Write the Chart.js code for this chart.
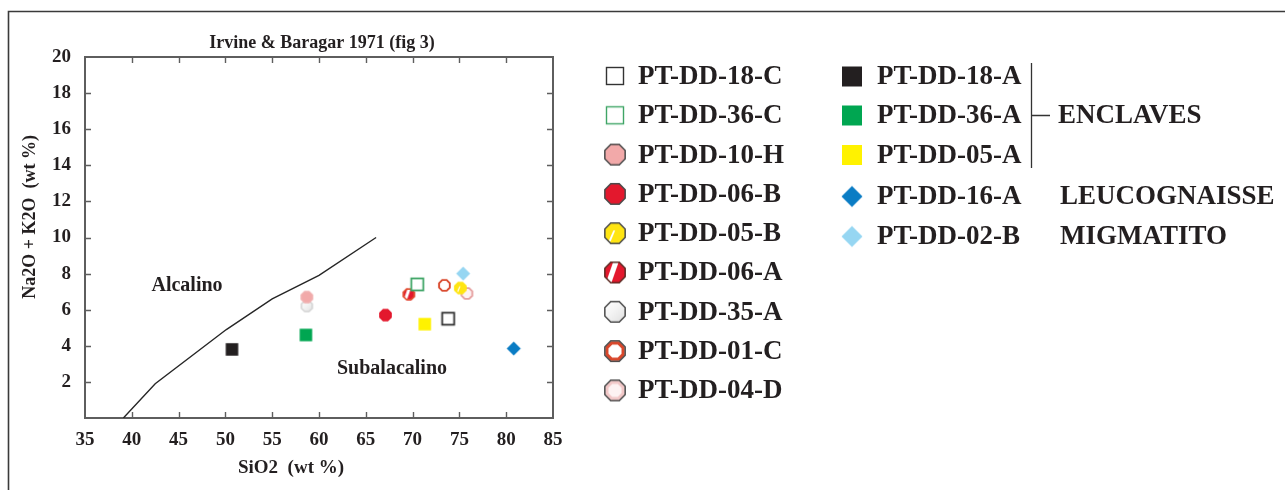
<!DOCTYPE html>
<html>
<head>
<meta charset="utf-8">
<script src="https://cdn.jsdelivr.net/npm/chart.js@4/dist/chart.umd.min.js"></script>
<style>
  html, body { margin: 0; padding: 0; background: #ffffff; }
  canvas { display: block; }
</style>
</head>
<body>
<canvas id="tas" width="1285" height="490"></canvas>
<script>
// Samples, SiO2 and total alkalis (Na2O + K2O), in wt %
const samples = ['PT-DD-18-C', 'PT-DD-36-C', 'PT-DD-10-H', 'PT-DD-06-B', 'PT-DD-05-B',
                 'PT-DD-06-A', 'PT-DD-35-A', 'PT-DD-01-C', 'PT-DD-04-D',
                 'PT-DD-18-A', 'PT-DD-36-A', 'PT-DD-05-A', 'PT-DD-16-A', 'PT-DD-02-B'];
const sio2    = [73.8, 70.5, 58.7, 67.1, 75.1, 69.6, 58.7, 73.4, 75.8, 50.7, 58.6, 71.3, 80.8, 75.4];
const alkalis = [5.5,  7.4,  6.7,  5.7,  7.2,  6.85, 6.2,  7.35, 6.9,  3.8,  4.6,  5.2,  3.85, 8.0];

// Irvine & Baragar (1971) alkaline / subalkaline divide
const divideSiO2 = [39.1, 42.5, 50.1, 55.0, 60.0, 66.1];
const divideAlk  = [0.0,  1.9,  4.9,  6.6,  7.9,  10.0];

// Axis tick labels
const xTickLabels = ['35', '40', '45', '50', '55', '60', '65', '70', '75', '80', '85'];
const yTickLabels = ['', '2', '4', '6', '8', '10', '12', '14', '16', '18', '20'];

// Field names written inside the diagram
const fieldNames = ['Alcalino', 'Subalacalino'];
const fieldSiO2  = [45.9, 67.8];
const fieldAlk   = [7.3, 2.75];

// Legend groups (second column)
const groupNames = ['ENCLAVES', 'LEUCOGNAISSE', 'MIGMATITO'];

// Symbol for each sample
const symbolStyles = {
  'PT-DD-18-C': { shape: 'square', fill: '#ffffff', stroke: '#333333', open: true },
  'PT-DD-36-C': { shape: 'square', fill: '#ffffff', stroke: '#3fa566', open: true },
  'PT-DD-10-H': { shape: 'oct', fill: '#f2a9a9', stroke: '#4a4a4a', plotStroke: '#f0b0b0' },
  'PT-DD-06-B': { shape: 'oct', fill: '#e3182d', stroke: '#4a4a4a', plotStroke: '#e3182d' },
  'PT-DD-05-B': { shape: 'oct', fill: '#ffe512', stroke: '#4a4a4a', plotStroke: '#ffe512', band: 'thin' },
  'PT-DD-06-A': { shape: 'oct', fill: '#e3182d', stroke: '#5a2a22', plotStroke: '#e0502c', band: 'wide' },
  'PT-DD-35-A': { shape: 'oct', fill: '#dedede', stroke: '#4a4a4a', plotStroke: '#d4d4d4', shade: true },
  'PT-DD-01-C': { shape: 'oct', fill: '#ffffff', stroke: '#4a4a4a', plotStroke: '#d9472b', ring: '#d9472b' },
  'PT-DD-04-D': { shape: 'oct', fill: '#fdf2f2', stroke: '#4a4a4a', plotStroke: '#e6a2a2', ring: '#f2c8c8' },
  'PT-DD-18-A': { shape: 'square', fill: '#231f20', stroke: '#231f20' },
  'PT-DD-36-A': { shape: 'square', fill: '#00a651', stroke: '#00a651' },
  'PT-DD-05-A': { shape: 'square', fill: '#fff200', stroke: '#fff200' },
  'PT-DD-16-A': { shape: 'diamond', fill: '#0a7cc4', stroke: '#0a7cc4' },
  'PT-DD-02-B': { shape: 'diamond', fill: '#96d6f2', stroke: '#96d6f2' }
};

const SERIF = "'Liberation Serif', 'DejaVu Serif', serif";
const INK = '#231f20';

function octPath(ctx, cx, cy, r) {
  ctx.beginPath();
  for (let k = 0; k < 8; k++) {
    const a = Math.PI / 8 + k * Math.PI / 4;
    const px = cx + r * Math.cos(a), py = cy + r * Math.sin(a);
    if (k === 0) ctx.moveTo(px, py); else ctx.lineTo(px, py);
  }
  ctx.closePath();
}

// Builds a small canvas used as a point style (plot) or legend key
function makeSymbol(st, big) {
  const size = big ? 26 : 17;
  const c = document.createElement('canvas');
  c.width = size; c.height = size;
  const g = c.getContext('2d');
  const m = size / 2;
  if (st.shape === 'square') {
    const s = big ? (st.open ? 17 : 20) : (st.open ? 12 : 12.5);
    if (st.open) {
      g.fillStyle = '#ffffff';
      g.fillRect(m - s / 2, m - s / 2, s, s);
      g.strokeStyle = st.stroke;
      g.lineWidth = big ? 1.4 : 1.8;
      g.strokeRect(m - s / 2, m - s / 2, s, s);
    } else {
      g.fillStyle = st.fill;
      g.fillRect(m - s / 2, m - s / 2, s, s);
    }
  } else if (st.shape === 'diamond') {
    const r = big ? 10.5 : 7;
    g.beginPath();
    g.moveTo(m, m - r); g.lineTo(m + r, m); g.lineTo(m, m + r); g.lineTo(m - r, m);
    g.closePath();
    g.fillStyle = st.fill;
    g.fill();
  } else {
    const r = big ? 11 : 6.6;
    octPath(g, m, m, r);
    if (st.shade) {
      const grad = g.createLinearGradient(m - r, m - r, m + r, m + r);
      grad.addColorStop(0, '#ffffff');
      grad.addColorStop(0.45, '#f4f4f4');
      grad.addColorStop(1, st.fill);
      g.fillStyle = grad;
    } else {
      g.fillStyle = st.fill;
    }
    g.fill();
    if (st.band) {
      g.save();
      octPath(g, m, m, r);
      g.clip();
      g.fillStyle = '#ffffff';
      g.beginPath();
      if (st.band === 'wide') {
        g.moveTo(m - 0.15 * r, m - r); g.lineTo(m + 0.35 * r, m - r);
        g.lineTo(m - 0.35 * r, m + r); g.lineTo(m - 0.85 * r, m + r);
      } else {
        g.moveTo(m - 0.15 * r, m - 0.25 * r); g.lineTo(m + 0.02 * r, m - 0.25 * r);
        g.lineTo(m - 0.4 * r, m + 0.75 * r); g.lineTo(m - 0.6 * r, m + 0.75 * r);
      }
      g.closePath();
      g.fill();
      g.restore();
    }
    if (big) {
      if (st.ring) {
        octPath(g, m, m, r - 2.2);
        g.strokeStyle = st.ring;
        g.lineWidth = 3.2;
        g.stroke();
      }
      octPath(g, m, m, r);
      g.strokeStyle = st.stroke;
      g.lineWidth = 1.5;
      g.stroke();
    } else {
      octPath(g, m, m, r - 0.8);
      g.strokeStyle = st.plotStroke || st.stroke;
      g.lineWidth = st.ring ? 1.9 : 1.5;
      g.stroke();
    }
  }
  return c;
}

const plotSymbols = {}, legendSymbols = {};
samples.forEach(function (s) {
  plotSymbols[s] = makeSymbol(symbolStyles[s], false);
  legendSymbols[s] = makeSymbol(symbolStyles[s], true);
});

const sampleSets = samples.map(function (s, i) {
  return {
    label: s,
    data: [{ x: sio2[i], y: alkalis[i] }],
    pointStyle: plotSymbols[s],
    pointRadius: 7,
    pointHoverRadius: 7
  };
});

const divideSet = {
  label: 'Irvine & Baragar 1971',
  data: divideSiO2.map(function (x, i) { return { x: x, y: divideAlk[i] }; }),
  showLine: true,
  borderColor: '#262626',
  borderWidth: 1.4,
  pointRadius: 0,
  tension: 0,
  fill: false
};

// Figure frame, plot box with inward ticks, titles, field names and legend
const decorations = {
  id: 'decorations',
  beforeDatasetsDraw(chart) {
    const ctx = chart.ctx, a = chart.chartArea;
    const xs = chart.scales.x, ys = chart.scales.y;
    ctx.save();
    // outer figure frame
    ctx.strokeStyle = '#3a3a3a';
    ctx.lineWidth = 1.6;
    ctx.beginPath();
    ctx.moveTo(8.5, 495); ctx.lineTo(8.5, 11.5); ctx.lineTo(1290, 11.5);
    ctx.stroke();
    // plot box
    ctx.strokeStyle = '#5e5e5e';
    ctx.lineWidth = 2;
    ctx.strokeRect(a.left, a.top, a.right - a.left, a.bottom - a.top);
    // inward tick marks on all four sides
    ctx.lineWidth = 1.4;
    ctx.beginPath();
    xs.ticks.forEach(function (t, i) {
      if (i === 0 || i === xs.ticks.length - 1) return;
      const px = Math.round(xs.getPixelForValue(t.value)) + 0.5;
      ctx.moveTo(px, a.bottom); ctx.lineTo(px, a.bottom - 6);
      ctx.moveTo(px, a.top); ctx.lineTo(px, a.top + 6);
    });
    ys.ticks.forEach(function (t, i) {
      if (i === 0 || i === ys.ticks.length - 1) return;
      const py = Math.round(ys.getPixelForValue(t.value)) + 0.5;
      ctx.moveTo(a.left, py); ctx.lineTo(a.left + 6, py);
      ctx.moveTo(a.right, py); ctx.lineTo(a.right - 6, py);
    });
    ctx.stroke();
    ctx.restore();
  },
  afterDraw(chart) {
    const ctx = chart.ctx, a = chart.chartArea;
    const xs = chart.scales.x, ys = chart.scales.y;
    ctx.save();
    ctx.fillStyle = INK;
    ctx.textBaseline = 'middle';
    ctx.textAlign = 'center';

    // diagram title
    ctx.font = 'bold 18px ' + SERIF;
    ctx.fillText('Irvine & Baragar 1971 (fig 3)', (a.left + a.right) / 2 + 3, a.top - 14);

    // axis titles
    ctx.font = 'bold 19px ' + SERIF;
    ctx.fillText('SiO2  (wt %)', a.left + 206, a.bottom + 50);
    ctx.font = 'bold 18px ' + SERIF;
    ctx.save();
    ctx.translate(a.left - 55, a.top + 160);
    ctx.rotate(-Math.PI / 2);
    ctx.fillText('Na2O + K2O  (wt %)', 0, 0);
    ctx.restore();

    // field names
    ctx.font = 'bold 20px ' + SERIF;
    fieldNames.forEach(function (t, i) {
      ctx.fillText(t, xs.getPixelForValue(fieldSiO2[i]), ys.getPixelForValue(fieldAlk[i]));
    });

    // legend: first column
    ctx.textAlign = 'left';
    ctx.font = 'bold 27px ' + SERIF;
    const col1 = samples.slice(0, 9);
    col1.forEach(function (s, i) {
      const y = 76 + i * 39.3;
      const img = legendSymbols[s];
      ctx.drawImage(img, 615 - img.width / 2, y - img.height / 2);
      ctx.fillText(s, 638, y + 1);
    });
    // legend: second column
    const col2 = samples.slice(9);
    const col2Y = [76.5, 115.5, 155, 196.5, 236.5];
    col2.forEach(function (s, i) {
      const y = col2Y[i];
      const img = legendSymbols[s];
      ctx.drawImage(img, 852 - img.width / 2, y - img.height / 2);
      ctx.fillText(s, 877, y + 1);
    });
    // enclave bracket
    ctx.strokeStyle = '#333333';
    ctx.lineWidth = 1.3;
    ctx.beginPath();
    ctx.moveTo(1031.5, 63); ctx.lineTo(1031.5, 168);
    ctx.moveTo(1031.5, 115.5); ctx.lineTo(1050, 115.5);
    ctx.stroke();
    ctx.fillText(groupNames[0], 1058, 116.5);
    ctx.fillText(groupNames[1], 1060, 197.5);
    ctx.fillText(groupNames[2], 1060, 237.5);
    ctx.restore();
  }
};

const tickFont = { family: SERIF, size: 19, weight: 'bold' };

new Chart(document.getElementById('tas'), {
  type: 'scatter',
  data: { datasets: sampleSets.concat([divideSet]) },
  options: {
    responsive: false,
    animation: false,
    devicePixelRatio: 1,
    layout: { padding: { left: 0, right: 732, top: 57, bottom: 0 } },
    scales: {
      x: {
        type: 'linear', min: 35, max: 85,
        grid: { display: false, drawTicks: false },
        border: { display: false },
        ticks: {
          stepSize: 5, padding: 11, color: INK, font: tickFont,
          maxRotation: 0, autoSkip: false,
          callback: function (v, i) { return xTickLabels[i]; }
        },
        afterFit: function (s) { s.height = 72; }
      },
      y: {
        type: 'linear', min: 0, max: 20,
        grid: { display: false, drawTicks: false },
        border: { display: false },
        ticks: {
          stepSize: 2, padding: 14, color: INK, font: tickFont, autoSkip: false,
          callback: function (v, i) { return yTickLabels[i]; }
        },
        afterFit: function (s) { s.width = 85; }
      }
    },
    plugins: {
      legend: { display: false },
      tooltip: { enabled: false },
      title: { display: false }
    }
  },
  plugins: [decorations]
});
</script>
</body>
</html>
